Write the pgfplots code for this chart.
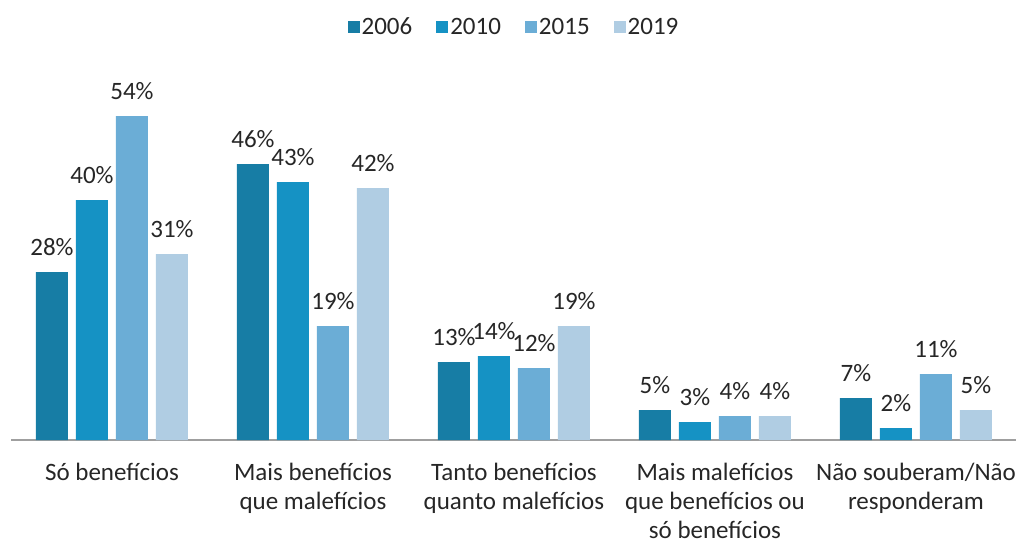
\documentclass[border=0pt]{standalone}
\usepackage{pgfplots}
\pgfplotsset{compat=1.18}
\usepackage{fontspec}
\setmainfont{Carlito}
\definecolor{cA}{HTML}{177DA5}
\definecolor{cB}{HTML}{1592C4}
\definecolor{cC}{HTML}{6BADD6}
\definecolor{cD}{HTML}{B0CDE3}
\definecolor{txt}{HTML}{262626}
\begin{document}
\begin{tikzpicture}
\useasboundingbox (-11.5pt,-101pt) rectangle (1007.5pt,440pt);
\begin{axis}[
  at={(0pt,0)}, anchor=south west,
  scale only axis, width=1005pt, height=360pt,
  ymin=0, ymax=60, xmin=-0.5, xmax=4.5,
  ybar=8pt, bar width=32pt,
  axis y line=none, axis x line*=bottom,
  x axis line style={draw=gray!75, line width=1.5pt, -},
  xtick=data, xtick style={draw=none},
  xticklabels={Só benefícios, Mais benefícios\\que malefícios, Tanto benefícios\\quanto malefícios, Mais malefícios\\que benefícios ou\\só benefícios, Não souberam/Não\\responderam},
  xticklabel style={align=center, font=\fontsize{25}{29}\selectfont, text=txt, anchor=north, yshift=-15.5pt},
  nodes near coords={\pgfmathprintnumber[assume math mode=true]{\pgfplotspointmeta}\%},
  every node near coord/.append style={font=\fontsize{25}{28}\selectfont, text=txt, yshift=13pt},
  clip=false,
  legend style={at={(0.5,1)}, anchor=center, yshift=53pt, draw=none, fill=none, legend columns=4,
    font=\fontsize{25}{28}\selectfont, text=txt,
    /tikz/every even column/.append style={column sep=22pt}},
  legend image code/.code={\fill[#1] (-6pt,-6pt) rectangle (6pt,6pt);},
]
\addplot[fill=cA, draw=none] coordinates {(0,28) (1,46) (2,13) (3,5) (4,7)};
\addplot[fill=cB, draw=none] coordinates {(0,40) (1,43) (2,14) (3,3) (4,2)};
\addplot[fill=cC, draw=none] coordinates {(0,54) (1,19) (2,12) (3,4) (4,11)};
\addplot[fill=cD, draw=none] coordinates {(0,31) (1,42) (2,19) (3,4) (4,5)};
\legend{2006,2010,2015,2019}
\end{axis}
\end{tikzpicture}
\end{document}
